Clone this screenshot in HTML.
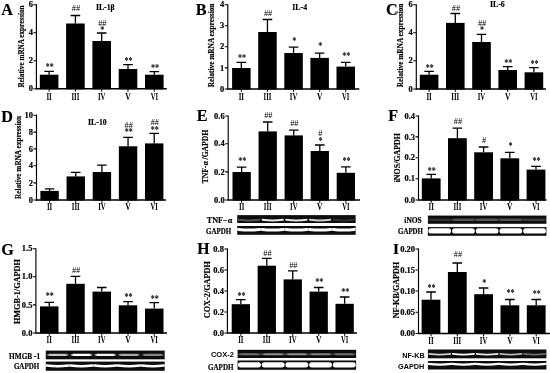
<!DOCTYPE html>
<html lang="en"><head><meta charset="utf-8"><title>Figure</title>
<style>
html,body{margin:0;padding:0;background:#fff}
svg{display:block}
text{font-family:"Liberation Serif",serif;text-anchor:middle;fill:#000}
.b{font-weight:bold;stroke:#000;stroke-width:.18px}.r{font-weight:bold}.h{font-weight:normal}.a{font-weight:bold}.i{font-style:italic}
.bs{font-weight:bold;font-family:"Liberation Sans",sans-serif}
.e{text-anchor:end}.l{text-anchor:start}
</style></head>
<body>
<svg width="550" height="373" viewBox="0 0 550 373">
<defs>
<filter id="bl" filterUnits="userSpaceOnUse" x="0" y="200" width="550" height="173"><feGaussianBlur stdDeviation="0.7 0.35"/></filter>
<filter id="soft" filterUnits="userSpaceOnUse" x="0" y="0" width="550" height="373"><feGaussianBlur stdDeviation="0.35"/></filter>
<filter id="bl3" filterUnits="userSpaceOnUse" x="0" y="200" width="550" height="173"><feGaussianBlur stdDeviation="1.1 0.55"/></filter>
<filter id="bl2" filterUnits="userSpaceOnUse" x="0" y="200" width="550" height="173"><feGaussianBlur stdDeviation="1.4 0.7"/></filter>
</defs>
<rect width="550" height="373" fill="#fff"/>
<g filter="url(#soft)">
<path d="M36.4 4.2V89.4" stroke="#000" stroke-width="1.15"/>
<path d="M35.9 88.8H166.8" stroke="#000" stroke-width="1.4"/>
<text class="b e" transform="translate(32.9 7.3) scale(1.16 1)" font-size="7.3">6</text>
<text class="b e" transform="translate(32.9 35.3) scale(1.16 1)" font-size="7.3">4</text>
<text class="b e" transform="translate(32.9 63.4) scale(1.16 1)" font-size="7.3">2</text>
<text class="b e" transform="translate(32.9 91.4) scale(1.16 1)" font-size="7.3">0</text>
<path d="M33.4 4.7H36.4M33.4 32.7H36.4M33.4 60.8H36.4M33.4 88.8H36.4" stroke="#000" stroke-width="1.1"/>
<rect x="39.8" y="74.7" width="18.6" height="14.6"/>
<text class="r" transform="translate(49.1 99.8) scale(0.65 1)" font-size="10.6" fill="#222">II</text>
<rect x="66.1" y="23.5" width="18.6" height="65.8"/>
<text class="r" transform="translate(75.4 99.8) scale(0.64 1)" font-size="10.6" fill="#222">III</text>
<rect x="92.4" y="41" width="18.6" height="48.3"/>
<text class="r" transform="translate(101.7 99.8) scale(0.64 1)" font-size="10.6" fill="#222">IV</text>
<rect x="118.7" y="69" width="18.6" height="20.3"/>
<text class="r" transform="translate(128 99.8) scale(0.72 1)" font-size="10.6" fill="#222">V</text>
<rect x="145" y="74.7" width="18.6" height="14.6"/>
<text class="r" transform="translate(154.3 99.8) scale(0.62 1)" font-size="10.6" fill="#222">VI</text>
<path d="M49.1 74.7V71.3M44.3 71.3H53.9M75.4 23.5V15.5M70.6 15.5H80.2M101.7 41V33M96.9 33H106.5M128 69V64.6M123.2 64.6H132.8M154.3 74.7V71.6M149.5 71.6H159.1" stroke="#000" stroke-width="1.3" fill="none"/>
<path d="M49.1 88.8V91.7M75.4 88.8V91.7M101.7 88.8V91.7M128 88.8V91.7M154.3 88.8V91.7" stroke="#000" stroke-width="1"/>
<text class="a" transform="translate(49.7 69.7) scale(0.76 1)" font-size="10.6" fill="#3c3c3c">**</text>
<text class="h" x="76" y="11.3" font-size="8.3" fill="#606060">##</text>
<text class="h" x="102.3" y="25.7" font-size="8.3" fill="#606060">##</text>
<text class="a" transform="translate(102.3 32.5) scale(0.76 1)" font-size="10.6" fill="#3c3c3c">*</text>
<text class="a" transform="translate(128.6 63.7) scale(0.76 1)" font-size="10.6" fill="#3c3c3c">**</text>
<text class="a" transform="translate(154.9 70.7) scale(0.76 1)" font-size="10.6" fill="#3c3c3c">**</text>
<text class="b" x="105.3" y="10.2" font-size="7.8">IL-1β</text>
<text class="b l" x="1.3" y="15" font-size="16.2">A</text>
<text class="b" transform="translate(23.5 46.5) rotate(-90)" font-size="7.18" textLength="82" lengthAdjust="spacingAndGlyphs">Relative mRNA expression</text>
<path d="M227.8 4.2V89.6" stroke="#000" stroke-width="1.15"/>
<path d="M227.3 89H359.3" stroke="#000" stroke-width="1.4"/>
<text class="b e" transform="translate(224.3 7.3) scale(1.16 1)" font-size="7.3">4</text>
<text class="b e" transform="translate(224.3 28.4) scale(1.16 1)" font-size="7.3">3</text>
<text class="b e" transform="translate(224.3 49.4) scale(1.16 1)" font-size="7.3">2</text>
<text class="b e" transform="translate(224.3 70.5) scale(1.16 1)" font-size="7.3">1</text>
<text class="b e" transform="translate(224.3 91.6) scale(1.16 1)" font-size="7.3">0</text>
<path d="M224.8 4.7H227.8M224.8 25.8H227.8M224.8 46.8H227.8M224.8 67.9H227.8M224.8 89H227.8" stroke="#000" stroke-width="1.1"/>
<rect x="232.1" y="68" width="18.5" height="21.5"/>
<text class="r" transform="translate(241.35 100) scale(0.65 1)" font-size="10.6" fill="#222">II</text>
<rect x="258.2" y="32" width="18.5" height="57.5"/>
<text class="r" transform="translate(267.45 100) scale(0.64 1)" font-size="10.6" fill="#222">III</text>
<rect x="284.3" y="53" width="18.5" height="36.5"/>
<text class="r" transform="translate(293.55 100) scale(0.64 1)" font-size="10.6" fill="#222">IV</text>
<rect x="310.4" y="57.9" width="18.5" height="31.6"/>
<text class="r" transform="translate(319.65 100) scale(0.72 1)" font-size="10.6" fill="#222">V</text>
<rect x="336.5" y="66.6" width="18.5" height="22.9"/>
<text class="r" transform="translate(345.75 100) scale(0.62 1)" font-size="10.6" fill="#222">VI</text>
<path d="M241.35 68V62.4M236.55 62.4H246.15M267.45 32V19.5M262.65 19.5H272.25M293.55 53V47.2M288.75 47.2H298.35M319.65 57.9V53.2M314.85 53.2H324.45M345.75 66.6V62.4M340.95 62.4H350.55" stroke="#000" stroke-width="1.3" fill="none"/>
<path d="M241.35 89V91.9M267.45 89V91.9M293.55 89V91.9M319.65 89V91.9M345.75 89V91.9" stroke="#000" stroke-width="1"/>
<text class="a" transform="translate(241.95 61.4) scale(0.76 1)" font-size="10.6" fill="#3c3c3c">**</text>
<text class="h" x="268.05" y="15.6" font-size="8.3" fill="#606060">##</text>
<text class="a" transform="translate(294.15 43.7) scale(0.76 1)" font-size="10.6" fill="#3c3c3c">*</text>
<text class="a" transform="translate(320.25 49.4) scale(0.76 1)" font-size="10.6" fill="#3c3c3c">*</text>
<text class="a" transform="translate(346.35 59.3) scale(0.76 1)" font-size="10.6" fill="#3c3c3c">**</text>
<text class="b" x="299.7" y="10.4" font-size="7.8">IL-4</text>
<text class="b l" x="195.8" y="15.2" font-size="16.2">B</text>
<text class="b" transform="translate(213.5 45.4) rotate(-90)" font-size="7.32" textLength="83.6" lengthAdjust="spacingAndGlyphs">Relative mRNA expression</text>
<path d="M416.3 4.2V89.6" stroke="#000" stroke-width="1.15"/>
<path d="M415.8 89H546" stroke="#000" stroke-width="1.4"/>
<text class="b e" transform="translate(412.8 7.3) scale(1.16 1)" font-size="7.3">6</text>
<text class="b e" transform="translate(412.8 35.3) scale(1.16 1)" font-size="7.3">4</text>
<text class="b e" transform="translate(412.8 63.4) scale(1.16 1)" font-size="7.3">2</text>
<text class="b e" transform="translate(412.8 91.6) scale(1.16 1)" font-size="7.3">0</text>
<path d="M413.3 4.7H416.3M413.3 32.7H416.3M413.3 60.8H416.3M413.3 89H416.3" stroke="#000" stroke-width="1.1"/>
<rect x="419.8" y="74.7" width="18.6" height="14.8"/>
<text class="r" transform="translate(429.1 100) scale(0.65 1)" font-size="10.6" fill="#222">II</text>
<rect x="446" y="22.9" width="18.6" height="66.6"/>
<text class="r" transform="translate(455.3 100) scale(0.64 1)" font-size="10.6" fill="#222">III</text>
<rect x="472.2" y="42" width="18.6" height="47.5"/>
<text class="r" transform="translate(481.5 100) scale(0.64 1)" font-size="10.6" fill="#222">IV</text>
<rect x="498.4" y="70" width="18.6" height="19.5"/>
<text class="r" transform="translate(507.7 100) scale(0.72 1)" font-size="10.6" fill="#222">V</text>
<rect x="524.6" y="72.3" width="18.6" height="17.2"/>
<text class="r" transform="translate(533.9 100) scale(0.62 1)" font-size="10.6" fill="#222">VI</text>
<path d="M429.1 74.7V71.3M424.3 71.3H433.9M455.3 22.9V13.5M450.5 13.5H460.1M481.5 42V34.3M476.7 34.3H486.3M507.7 70V66.6M502.9 66.6H512.5M533.9 72.3V67.6M529.1 67.6H538.7" stroke="#000" stroke-width="1.3" fill="none"/>
<path d="M429.1 89V91.9M455.3 89V91.9M481.5 89V91.9M507.7 89V91.9M533.9 89V91.9" stroke="#000" stroke-width="1"/>
<text class="a" transform="translate(429.7 70.7) scale(0.76 1)" font-size="10.6" fill="#3c3c3c">**</text>
<text class="h" x="455.9" y="11.1" font-size="8.3" fill="#606060">##</text>
<text class="h" x="482.1" y="26.1" font-size="8.3" fill="#606060">##</text>
<text class="a" transform="translate(482.1 32.7) scale(0.76 1)" font-size="10.6" fill="#3c3c3c">*</text>
<text class="a" transform="translate(508.3 65.6) scale(0.76 1)" font-size="10.6" fill="#3c3c3c">**</text>
<text class="a" transform="translate(534.5 66.5) scale(0.76 1)" font-size="10.6" fill="#3c3c3c">**</text>
<text class="b" x="497.4" y="7.4" font-size="7.8">IL-6</text>
<text class="b l" x="386" y="15.2" font-size="16.2">C</text>
<text class="b" transform="translate(403.3 45.4) rotate(-90)" font-size="7.32" textLength="83.6" lengthAdjust="spacingAndGlyphs">Relative mRNA expression</text>
<path d="M36.5 114.8V200.6" stroke="#000" stroke-width="1.15"/>
<path d="M36 200H166" stroke="#000" stroke-width="1.4"/>
<text class="b e" transform="translate(33 117.9) scale(1.16 1)" font-size="7.3">10</text>
<text class="b e" transform="translate(33 134.7) scale(1.16 1)" font-size="7.3">8</text>
<text class="b e" transform="translate(33 151.5) scale(1.16 1)" font-size="7.3">6</text>
<text class="b e" transform="translate(33 168.4) scale(1.16 1)" font-size="7.3">4</text>
<text class="b e" transform="translate(33 185.5) scale(1.16 1)" font-size="7.3">2</text>
<text class="b e" transform="translate(33 202.6) scale(1.16 1)" font-size="7.3">0</text>
<path d="M33.5 115.3H36.5M33.5 132.1H36.5M33.5 148.9H36.5M33.5 165.8H36.5M33.5 182.9H36.5M33.5 200H36.5" stroke="#000" stroke-width="1.1"/>
<rect x="40.4" y="190.9" width="18.4" height="9.6"/>
<text class="r" transform="translate(49.6 210) scale(0.7 1)" font-size="9.8" fill="#222">II</text>
<rect x="66.55" y="176.4" width="18.4" height="24.1"/>
<text class="r" transform="translate(75.75 210) scale(0.69 1)" font-size="9.8" fill="#222">III</text>
<rect x="92.7" y="172" width="18.4" height="28.5"/>
<text class="r" transform="translate(101.9 210) scale(0.69 1)" font-size="9.8" fill="#222">IV</text>
<rect x="118.85" y="146.3" width="18.4" height="54.2"/>
<text class="r" transform="translate(128.05 210) scale(0.78 1)" font-size="9.8" fill="#222">V</text>
<rect x="145" y="143.4" width="18.4" height="57.1"/>
<text class="r" transform="translate(154.2 210) scale(0.67 1)" font-size="9.8" fill="#222">VI</text>
<path d="M49.6 190.9V188.9M44.8 188.9H54.4M75.75 176.4V172.4M70.95 172.4H80.55M101.9 172V165.2M97.1 165.2H106.7M128.05 146.3V137.4M123.25 137.4H132.85M154.2 143.4V133.4M149.4 133.4H159" stroke="#000" stroke-width="1.3" fill="none"/>
<path d="M49.6 200V202.9M75.75 200V202.9M101.9 200V202.9M128.05 200V202.9M154.2 200V202.9" stroke="#000" stroke-width="1"/>
<text class="h" x="128.65" y="128" font-size="8.3" fill="#606060">##</text>
<text class="a" transform="translate(128.65 135.4) scale(0.76 1)" font-size="10.6" fill="#3c3c3c">**</text>
<text class="h" x="154.8" y="124.8" font-size="8.3" fill="#606060">##</text>
<text class="a" transform="translate(154.8 132.9) scale(0.76 1)" font-size="10.6" fill="#3c3c3c">**</text>
<text class="b" x="97.4" y="124.5" font-size="7.8">IL-10</text>
<text class="b l" x="1.3" y="122.1" font-size="16.2">D</text>
<text class="b" transform="translate(21.4 157.4) rotate(-90)" font-size="7.26" textLength="83" lengthAdjust="spacingAndGlyphs">Relative mRNA expression</text>
<path d="M228.2 115.5V200.6" stroke="#000" stroke-width="1.15"/>
<path d="M227.7 200H360" stroke="#000" stroke-width="1.4"/>
<text class="b e" transform="translate(224.7 118.6) scale(1.16 1)" font-size="7.3">0.6</text>
<text class="b e" transform="translate(224.7 146.4) scale(1.16 1)" font-size="7.3">0.4</text>
<text class="b e" transform="translate(224.7 174.5) scale(1.16 1)" font-size="7.3">0.2</text>
<text class="b e" transform="translate(224.7 202.6) scale(1.16 1)" font-size="7.3">0.0</text>
<path d="M225.2 116H228.2M225.2 143.8H228.2M225.2 171.9H228.2M225.2 200H228.2" stroke="#000" stroke-width="1.1"/>
<rect x="232.5" y="172" width="18.3" height="28.5"/>
<text class="r" transform="translate(241.65 210) scale(0.7 1)" font-size="9.8" fill="#222">II</text>
<rect x="258.55" y="131.4" width="18.3" height="69.1"/>
<text class="r" transform="translate(267.7 210) scale(0.69 1)" font-size="9.8" fill="#222">III</text>
<rect x="284.6" y="135.4" width="18.3" height="65.1"/>
<text class="r" transform="translate(293.75 210) scale(0.69 1)" font-size="9.8" fill="#222">IV</text>
<rect x="310.65" y="151" width="18.3" height="49.5"/>
<text class="r" transform="translate(319.8 210) scale(0.78 1)" font-size="9.8" fill="#222">V</text>
<rect x="336.7" y="172.8" width="18.3" height="27.7"/>
<text class="r" transform="translate(345.85 210) scale(0.67 1)" font-size="9.8" fill="#222">VI</text>
<path d="M241.65 172V167.2M236.85 167.2H246.45M267.7 131.4V122M262.9 122H272.5M293.75 135.4V130.2M288.95 130.2H298.55M319.8 151V145M315 145H324.6M345.85 172.8V166.8M341.05 166.8H350.65" stroke="#000" stroke-width="1.3" fill="none"/>
<path d="M241.65 200V202.9M267.7 200V202.9M293.75 200V202.9M319.8 200V202.9M345.85 200V202.9" stroke="#000" stroke-width="1"/>
<text class="a" transform="translate(242.25 164.1) scale(0.76 1)" font-size="10.6" fill="#3c3c3c">**</text>
<text class="h" x="268.3" y="118" font-size="8.3" fill="#606060">##</text>
<text class="h" x="294.35" y="125.6" font-size="8.3" fill="#606060">##</text>
<text class="h" x="320.4" y="135.6" font-size="8.3" fill="#606060">#</text>
<text class="a" transform="translate(320.4 143.6) scale(0.76 1)" font-size="10.6" fill="#3c3c3c">*</text>
<text class="a" transform="translate(346.45 163.9) scale(0.76 1)" font-size="10.6" fill="#3c3c3c">**</text>
<text class="b l" x="196.8" y="121.4" font-size="16.2">E</text>
<text class="b" transform="translate(208.1 156.6) rotate(-90)" font-size="7.61" textLength="53.5" lengthAdjust="spacingAndGlyphs">TNF-α /GAPDH</text>
<rect x="237.2" y="215.1" width="118.4" height="7.9" fill="#0b0b0b"/>
<g fill="none" stroke="#fff" stroke-width="1.9" stroke-linecap="round" filter="url(#bl)">
<path d="M238.8 219.75Q249.04 221.19 259.28 219.75" opacity="0.3"/>
<path d="M262.48 219.75Q272.72 221.19 282.96 219.75" opacity="0.9"/>
<path d="M286.16 219.75Q296.4 221.19 306.64 219.75" opacity="0.9"/>
<path d="M309.84 219.75Q320.08 221.19 330.32 219.75" opacity="0.8"/>
<path d="M333.52 219.75Q343.76 221.19 354 219.75" opacity="0.14"/>
</g>
<text class="b e" x="232.3" y="222.71" font-size="8.2" textLength="25.5" lengthAdjust="spacingAndGlyphs">TNF−α</text>
<rect x="237.2" y="226" width="118.4" height="8.8" fill="#0b0b0b"/>
<g fill="none" stroke="#fff" stroke-width="3.1" stroke-linecap="round" filter="url(#bl)">
<path d="M238.5 229.5Q249.04 230.58 259.58 229.5"/>
<path d="M262.18 229.5Q272.72 230.58 283.26 229.5"/>
<path d="M285.86 229.5Q296.4 230.58 306.94 229.5"/>
<path d="M309.54 229.5Q320.08 230.58 330.62 229.5"/>
<path d="M333.22 229.5Q343.76 230.58 354.3 229.5"/>
</g>
<text class="b e" x="231.3" y="233.97" font-size="7.5" textLength="25.2" lengthAdjust="spacingAndGlyphs">GAPDH</text>
<path d="M418.5 115.5V200.6" stroke="#000" stroke-width="1.15"/>
<path d="M418 200H546.5" stroke="#000" stroke-width="1.4"/>
<text class="b e" transform="translate(415 118.6) scale(1.16 1)" font-size="7.3">0.4</text>
<text class="b e" transform="translate(415 139.5) scale(1.16 1)" font-size="7.3">0.3</text>
<text class="b e" transform="translate(415 160.3) scale(1.16 1)" font-size="7.3">0.2</text>
<text class="b e" transform="translate(415 181.4) scale(1.16 1)" font-size="7.3">0.1</text>
<text class="b e" transform="translate(415 202.6) scale(1.16 1)" font-size="7.3">0.0</text>
<path d="M415.5 116H418.5M415.5 136.9H418.5M415.5 157.7H418.5M415.5 178.8H418.5M415.5 200H418.5" stroke="#000" stroke-width="1.1"/>
<rect x="421.8" y="178.4" width="18.8" height="22.1"/>
<text class="r" transform="translate(431.2 210) scale(0.7 1)" font-size="9.8" fill="#222">II</text>
<rect x="448" y="138.2" width="18.8" height="62.3"/>
<text class="r" transform="translate(457.4 210) scale(0.69 1)" font-size="9.8" fill="#222">III</text>
<rect x="474.2" y="152.3" width="18.8" height="48.2"/>
<text class="r" transform="translate(483.6 210) scale(0.69 1)" font-size="9.8" fill="#222">IV</text>
<rect x="500.4" y="158.3" width="18.8" height="42.2"/>
<text class="r" transform="translate(509.8 210) scale(0.78 1)" font-size="9.8" fill="#222">V</text>
<rect x="526.6" y="169.6" width="18.8" height="30.9"/>
<text class="r" transform="translate(536 210) scale(0.67 1)" font-size="9.8" fill="#222">VI</text>
<path d="M431.2 178.4V174.4M426.4 174.4H436M457.4 138.2V128.2M452.6 128.2H462.2M483.6 152.3V147M478.8 147H488.4M509.8 158.3V152.3M505 152.3H514.6M536 169.6V166.4M531.2 166.4H540.8" stroke="#000" stroke-width="1.3" fill="none"/>
<path d="M431.2 200V202.9M457.4 200V202.9M483.6 200V202.9M509.8 200V202.9M536 200V202.9" stroke="#000" stroke-width="1"/>
<text class="a" transform="translate(431.8 173.7) scale(0.76 1)" font-size="10.6" fill="#3c3c3c">**</text>
<text class="h" x="458" y="123.5" font-size="8.3" fill="#606060">##</text>
<text class="h" x="484.2" y="142.5" font-size="8.3" fill="#606060">#</text>
<text class="a" transform="translate(510.4 149.3) scale(0.76 1)" font-size="10.6" fill="#3c3c3c">*</text>
<text class="a" transform="translate(536.6 164.3) scale(0.76 1)" font-size="10.6" fill="#3c3c3c">**</text>
<text class="b l" x="388.2" y="121.4" font-size="16.2">F</text>
<text class="b" transform="translate(399.7 157.7) rotate(-90)" font-size="7.92" textLength="49.3" lengthAdjust="spacingAndGlyphs">iNOS/GAPDH</text>
<rect x="427.9" y="215.6" width="118.5" height="8.2" fill="#0b0b0b"/>
<g fill="none" stroke="#fff" stroke-width="2.4" stroke-linecap="round" filter="url(#bl2)">
<path d="M429.5 219.7Q439.75 219.7 450 219.7" opacity="0.16"/>
<path d="M453.2 219.7Q463.45 219.7 473.7 219.7" opacity="0.3"/>
<path d="M476.9 219.7Q487.15 219.7 497.4 219.7" opacity="0.32"/>
<path d="M500.6 219.7Q510.85 219.7 521.1 219.7" opacity="0.3"/>
<path d="M524.3 219.7Q534.55 219.7 544.8 219.7" opacity="0.2"/>
</g>
<text class="b e" x="421.8" y="223.44" font-size="7.7" textLength="17.5" lengthAdjust="spacingAndGlyphs">iNOS</text>
<rect x="427.9" y="227.1" width="118.5" height="8.7" fill="#0b0b0b"/>
<g fill="none" stroke="#fff" stroke-width="5.2" stroke-linecap="round" filter="url(#bl)">
<path d="M431 230.95Q439.75 230.95 448.5 230.95"/>
<path d="M454.7 230.95Q463.45 230.95 472.2 230.95"/>
<path d="M478.4 230.95Q487.15 230.95 495.9 230.95"/>
<path d="M502.1 230.95Q510.85 230.95 519.6 230.95"/>
<path d="M525.8 230.95Q534.55 230.95 543.3 230.95"/>
</g>
<text class="b e" x="423" y="234.47" font-size="7.5" textLength="25" lengthAdjust="spacingAndGlyphs">GAPDH</text>
<path d="M35.9 248.2V333.6" stroke="#000" stroke-width="1.15"/>
<path d="M35.4 333H167" stroke="#000" stroke-width="1.4"/>
<text class="b e" transform="translate(32.4 251.3) scale(1.16 1)" font-size="7.3">1.5</text>
<text class="b e" transform="translate(32.4 279.4) scale(1.16 1)" font-size="7.3">1.0</text>
<text class="b e" transform="translate(32.4 307.5) scale(1.16 1)" font-size="7.3">0.5</text>
<text class="b e" transform="translate(32.4 335.6) scale(1.16 1)" font-size="7.3">0.0</text>
<path d="M32.9 248.7H35.9M32.9 276.8H35.9M32.9 304.9H35.9M32.9 333H35.9" stroke="#000" stroke-width="1.1"/>
<rect x="40" y="306.4" width="18.5" height="27.1"/>
<text class="r" transform="translate(49.25 343) scale(0.7 1)" font-size="9.8" fill="#222">II</text>
<rect x="66.25" y="283.8" width="18.5" height="49.7"/>
<text class="r" transform="translate(75.5 343) scale(0.69 1)" font-size="9.8" fill="#222">III</text>
<rect x="92.5" y="291.6" width="18.5" height="41.9"/>
<text class="r" transform="translate(101.75 343) scale(0.69 1)" font-size="9.8" fill="#222">IV</text>
<rect x="118.75" y="305.3" width="18.5" height="28.2"/>
<text class="r" transform="translate(128 343) scale(0.78 1)" font-size="9.8" fill="#222">V</text>
<rect x="145" y="308.6" width="18.5" height="24.9"/>
<text class="r" transform="translate(154.25 343) scale(0.67 1)" font-size="9.8" fill="#222">VI</text>
<path d="M49.25 306.4V302.3M44.45 302.3H54.05M75.5 283.8V276.4M70.7 276.4H80.3M101.75 291.6V287.5M96.95 287.5H106.55M128 305.3V301.6M123.2 301.6H132.8M154.25 308.6V302.7M149.45 302.7H159.05" stroke="#000" stroke-width="1.3" fill="none"/>
<path d="M49.25 333V335.9M75.5 333V335.9M101.75 333V335.9M128 333V335.9M154.25 333V335.9" stroke="#000" stroke-width="1"/>
<text class="a" transform="translate(49.85 299.1) scale(0.76 1)" font-size="10.6" fill="#3c3c3c">**</text>
<text class="h" x="76.1" y="273.3" font-size="8.3" fill="#606060">##</text>
<text class="a" transform="translate(128.6 300.4) scale(0.76 1)" font-size="10.6" fill="#3c3c3c">**</text>
<text class="a" transform="translate(154.85 302.1) scale(0.76 1)" font-size="10.6" fill="#3c3c3c">**</text>
<text class="b l" x="1.3" y="254.8" font-size="16.2">G</text>
<text class="b" transform="translate(20.1 291.6) rotate(-90)" font-size="8.24" textLength="65" lengthAdjust="spacingAndGlyphs">HMGB-1/GAPDH</text>
<rect x="45.8" y="350.6" width="118.9" height="8.7" fill="#0b0b0b"/>
<g fill="none" stroke="#fff" stroke-width="2.3" stroke-linecap="round" filter="url(#bl3)">
<path d="M48.8 354.95Q57.69 354.95 66.58 354.95" opacity="0.75"/>
<path d="M72.58 354.95Q81.47 354.95 90.36 354.95"/>
<path d="M96.36 354.95Q105.25 354.95 114.14 354.95" opacity="0.95"/>
<path d="M120.14 354.95Q129.03 354.95 137.92 354.95" opacity="0.65"/>
<path d="M143.92 354.95Q152.81 354.95 161.7 354.95" opacity="0.5"/>
</g>
<text class="b e" x="40.1" y="359.38" font-size="7.5" textLength="31" lengthAdjust="spacingAndGlyphs">HMGB -1</text>
<rect x="45.8" y="361.6" width="118.9" height="9.2" fill="#0b0b0b"/>
<g fill="none" stroke="#fff" stroke-width="2.6" stroke-linecap="round" filter="url(#bl)">
<path d="M46.8 365.55Q57.69 366.81 68.58 365.55"/>
<path d="M70.58 365.55Q81.47 366.81 92.36 365.55"/>
<path d="M94.36 365.55Q105.25 366.81 116.14 365.55"/>
<path d="M118.14 365.55Q129.03 366.81 139.92 365.55"/>
<path d="M141.92 365.55Q152.81 366.81 163.7 365.55"/>
</g>
<text class="b e" x="39.3" y="368.68" font-size="7.5" textLength="25.4" lengthAdjust="spacingAndGlyphs">GAPDH</text>
<path d="M227.4 248.5V333.6" stroke="#000" stroke-width="1.15"/>
<path d="M226.9 333H357" stroke="#000" stroke-width="1.4"/>
<text class="b e" transform="translate(223.9 251.6) scale(1.16 1)" font-size="7.3">0.8</text>
<text class="b e" transform="translate(223.9 272.6) scale(1.16 1)" font-size="7.3">0.6</text>
<text class="b e" transform="translate(223.9 293.6) scale(1.16 1)" font-size="7.3">0.4</text>
<text class="b e" transform="translate(223.9 314.6) scale(1.16 1)" font-size="7.3">0.2</text>
<text class="b e" transform="translate(223.9 335.6) scale(1.16 1)" font-size="7.3">0.0</text>
<path d="M224.4 249H227.4M224.4 270H227.4M224.4 291H227.4M224.4 312H227.4M224.4 333H227.4" stroke="#000" stroke-width="1.1"/>
<rect x="231.7" y="304.2" width="18.3" height="29.3"/>
<text class="r" transform="translate(240.85 343) scale(0.7 1)" font-size="9.8" fill="#222">II</text>
<rect x="257.65" y="265.7" width="18.3" height="67.8"/>
<text class="r" transform="translate(266.8 343) scale(0.69 1)" font-size="9.8" fill="#222">III</text>
<rect x="283.6" y="279.4" width="18.3" height="54.1"/>
<text class="r" transform="translate(292.75 343) scale(0.69 1)" font-size="9.8" fill="#222">IV</text>
<rect x="309.55" y="291.6" width="18.3" height="41.9"/>
<text class="r" transform="translate(318.7 343) scale(0.78 1)" font-size="9.8" fill="#222">V</text>
<rect x="335.5" y="303.8" width="18.3" height="29.7"/>
<text class="r" transform="translate(344.65 343) scale(0.67 1)" font-size="9.8" fill="#222">VI</text>
<path d="M240.85 304.2V299.7M236.05 299.7H245.65M266.8 265.7V258.3M262 258.3H271.6M292.75 279.4V270.9M287.95 270.9H297.55M318.7 291.6V287.5M313.9 287.5H323.5M344.65 303.8V297M339.85 297H349.45" stroke="#000" stroke-width="1.3" fill="none"/>
<path d="M240.85 333V335.9M266.8 333V335.9M292.75 333V335.9M318.7 333V335.9M344.65 333V335.9" stroke="#000" stroke-width="1"/>
<text class="a" transform="translate(241.45 298.9) scale(0.76 1)" font-size="10.6" fill="#3c3c3c">**</text>
<text class="h" x="267.4" y="255.7" font-size="8.3" fill="#606060">##</text>
<text class="h" x="293.35" y="267.5" font-size="8.3" fill="#606060">##</text>
<text class="a" transform="translate(319.3 285.1) scale(0.76 1)" font-size="10.6" fill="#3c3c3c">**</text>
<text class="a" transform="translate(345.25 294.9) scale(0.76 1)" font-size="10.6" fill="#3c3c3c">**</text>
<text class="b l" x="197.2" y="253.9" font-size="15.8">H</text>
<text class="b" transform="translate(209.9 289.7) rotate(-90)" font-size="8.21" textLength="57" lengthAdjust="spacingAndGlyphs">COX-2/GAPDH</text>
<rect x="237.6" y="349.8" width="118.5" height="8.2" fill="#0b0b0b"/>
<g fill="none" stroke="#fff" stroke-width="2" stroke-linecap="round" filter="url(#bl2)">
<path d="M239.8 354.3Q249.45 354.3 259.1 354.3" opacity="0.42"/>
<path d="M263.5 354.3Q273.15 354.3 282.8 354.3" opacity="0.55"/>
<path d="M287.2 354.3Q296.85 354.3 306.5 354.3" opacity="0.55"/>
<path d="M310.9 354.3Q320.55 354.3 330.2 354.3" opacity="0.5"/>
<path d="M334.6 354.3Q344.25 354.3 353.9 354.3" opacity="0.42"/>
</g>
<text class="bs e" x="234" y="357.18" font-size="7.5" textLength="23.1" lengthAdjust="spacingAndGlyphs">COX-2</text>
<rect x="237.6" y="360.5" width="118.5" height="9.3" fill="#0b0b0b"/>
<g fill="none" stroke="#fff" stroke-width="5.2" stroke-linecap="round" filter="url(#bl)">
<path d="M240.6 364.85Q249.45 364.85 258.3 364.85"/>
<path d="M264.3 364.85Q273.15 364.85 282 364.85"/>
<path d="M288 364.85Q296.85 364.85 305.7 364.85"/>
<path d="M311.7 364.85Q320.55 364.85 329.4 364.85"/>
<path d="M335.4 364.85Q344.25 364.85 353.1 364.85"/>
</g>
<text class="b e" x="233.5" y="369.98" font-size="7.5" textLength="25.5" lengthAdjust="spacingAndGlyphs">GAPDH</text>
<path d="M418.5 248.5V334.1" stroke="#000" stroke-width="1.15"/>
<path d="M418 333.5H550" stroke="#000" stroke-width="1.4"/>
<text class="b e" transform="translate(415 251.6) scale(1.16 1)" font-size="7.3">0.20</text>
<text class="b e" transform="translate(415 272.6) scale(1.16 1)" font-size="7.3">0.15</text>
<text class="b e" transform="translate(415 293.6) scale(1.16 1)" font-size="7.3">0.10</text>
<text class="b e" transform="translate(415 314.8) scale(1.16 1)" font-size="7.3">0.05</text>
<text class="b e" transform="translate(415 336.1) scale(1.16 1)" font-size="7.3">0.00</text>
<path d="M415.5 249H418.5M415.5 270H418.5M415.5 291H418.5M415.5 312.2H418.5M415.5 333.5H418.5" stroke="#000" stroke-width="1.1"/>
<rect x="421.6" y="299.7" width="18.8" height="34.3"/>
<text class="r" transform="translate(431 343.5) scale(0.7 1)" font-size="9.8" fill="#222">II</text>
<rect x="447.9" y="272" width="18.8" height="62"/>
<text class="r" transform="translate(457.3 343.5) scale(0.69 1)" font-size="9.8" fill="#222">III</text>
<rect x="474.2" y="294.2" width="18.8" height="39.8"/>
<text class="r" transform="translate(483.6 343.5) scale(0.69 1)" font-size="9.8" fill="#222">IV</text>
<rect x="500.5" y="305.3" width="18.8" height="28.7"/>
<text class="r" transform="translate(509.9 343.5) scale(0.78 1)" font-size="9.8" fill="#222">V</text>
<rect x="526.8" y="305.3" width="18.8" height="28.7"/>
<text class="r" transform="translate(536.2 343.5) scale(0.67 1)" font-size="9.8" fill="#222">VI</text>
<path d="M431 299.7V292M426.2 292H435.8M457.3 272V263M452.5 263H462.1M483.6 294.2V288M478.8 288H488.4M509.9 305.3V299.5M505.1 299.5H514.7M536.2 305.3V299.5M531.4 299.5H541" stroke="#000" stroke-width="1.3" fill="none"/>
<path d="M431 333.5V336.4M457.3 333.5V336.4M483.6 333.5V336.4M509.9 333.5V336.4M536.2 333.5V336.4" stroke="#000" stroke-width="1"/>
<text class="a" transform="translate(431.6 290.6) scale(0.76 1)" font-size="10.6" fill="#3c3c3c">**</text>
<text class="h" x="457.9" y="257" font-size="8.3" fill="#606060">##</text>
<text class="a" transform="translate(484.2 285.6) scale(0.76 1)" font-size="10.6" fill="#3c3c3c">*</text>
<text class="a" transform="translate(510.5 296) scale(0.76 1)" font-size="10.6" fill="#3c3c3c">**</text>
<text class="a" transform="translate(536.8 297.2) scale(0.76 1)" font-size="10.6" fill="#3c3c3c">**</text>
<text class="b l" x="393" y="253.9" font-size="15.4">I</text>
<text class="b" transform="translate(399.1 290.1) rotate(-90)" font-size="8.07" textLength="56.5" lengthAdjust="spacingAndGlyphs">NF-KB/GAPDH</text>
<rect x="427.9" y="349.5" width="118.5" height="8.8" fill="#0b0b0b"/>
<g fill="none" stroke="#fff" stroke-width="1.6" stroke-linecap="round" filter="url(#bl)">
<path d="M429.1 353.9Q439.75 355.34 450.4 353.9" opacity="0.8"/>
<path d="M452.8 353.9Q463.45 355.34 474.1 353.9"/>
<path d="M476.5 353.9Q487.15 355.34 497.8 353.9" opacity="0.9"/>
<path d="M500.2 353.9Q510.85 355.34 521.5 353.9" opacity="0.7"/>
<path d="M523.9 353.9Q534.55 355.34 545.2 353.9" opacity="0.4"/>
</g>
<text class="bs e" x="424.6" y="358.31" font-size="7.3" textLength="22.4" lengthAdjust="spacingAndGlyphs">NF-KB</text>
<rect x="427.9" y="361" width="118.5" height="8.5" fill="#0b0b0b"/>
<g fill="none" stroke="#fff" stroke-width="2.2" stroke-linecap="round" filter="url(#bl)">
<path d="M428.5 363.95Q439.75 365.39 451 363.95"/>
<path d="M452.2 363.95Q463.45 365.39 474.7 363.95"/>
<path d="M475.9 363.95Q487.15 365.39 498.4 363.95"/>
<path d="M499.6 363.95Q510.85 365.39 522.1 363.95"/>
<path d="M523.3 363.95Q534.55 365.39 545.8 363.95"/>
</g>
<text class="bs e" x="424.3" y="369.44" font-size="7.4" textLength="26.3" lengthAdjust="spacingAndGlyphs">GAPDH</text>
</g>
</svg>
</body></html>
